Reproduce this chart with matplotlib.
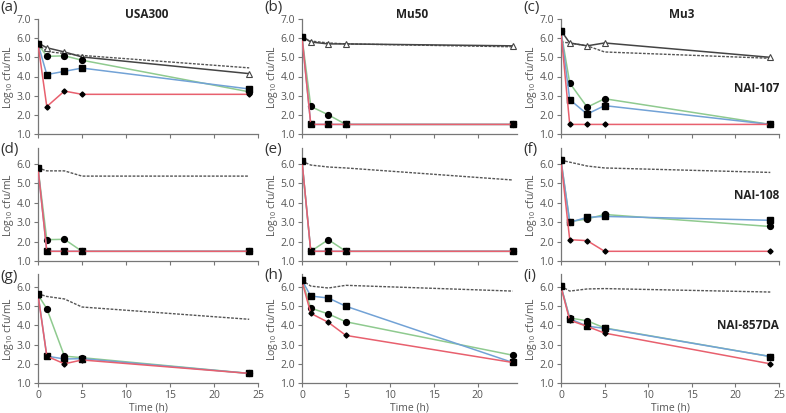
import matplotlib.pyplot as plt

times = [0, 1, 3, 5, 24]

strains = ['USA300', 'Mu50', 'Mu3']
drugs = ['NAI-107', 'NAI-108', 'NAI-857DA']
panel_labels = ['(a)', '(b)', '(c)', '(d)', '(e)', '(f)', '(g)', '(h)', '(i)']

# row 1 - NAI-107
a_ctrl = [5.70, 5.30, 5.20, 5.10, 4.45]
a_tri = [5.75, 5.50, 5.28, 5.02, 4.15]
a_green = [5.70, 5.05, 5.08, 4.85, 3.20]
a_blue = [5.70, 4.10, 4.27, 4.44, 3.35]
a_red = [5.70, 2.43, 3.24, 3.07, 3.07]

b_ctrl = [6.05, 5.85, 5.75, 5.70, 5.55]
b_tri = [6.08, 5.80, 5.70, 5.70, 5.60]
b_green = [6.05, 2.44, 2.00, 1.50, 1.50]
b_blue = [6.05, 1.50, 1.50, 1.50, 1.50]
b_red = [6.05, 1.50, 1.50, 1.50, 1.50]

c_ctrl = [5.80, 5.75, 5.60, 5.28, 4.95]
c_tri = [6.40, 5.75, 5.60, 5.75, 5.00]
c_green = [6.35, 3.66, 2.40, 2.84, 1.50]
c_blue = [6.40, 2.79, 2.04, 2.48, 1.50]
c_red = [6.30, 1.50, 1.50, 1.50, 1.50]

# row 2 - NAI-108
d_ctrl = [5.80, 5.65, 5.65, 5.38, 5.38]
d_green = [5.80, 2.10, 2.12, 1.50, 1.50]
d_blue = [5.80, 1.50, 1.50, 1.50, 1.50]
d_red = [5.80, 1.50, 1.50, 1.50, 1.50]

e_ctrl = [6.15, 5.95, 5.85, 5.80, 5.18]
e_green = [6.15, 1.50, 2.10, 1.50, 1.50]
e_blue = [6.15, 1.50, 1.50, 1.50, 1.50]
e_red = [6.15, 1.50, 1.50, 1.50, 1.50]

f_ctrl = [6.20, 6.10, 5.90, 5.80, 5.57]
f_green = [6.20, 3.03, 3.17, 3.40, 2.78]
f_blue = [6.20, 3.00, 3.25, 3.30, 3.10]
f_red = [6.15, 2.10, 2.05, 1.50, 1.50]

# row 3 - NAI-857DA
g_ctrl = [5.65, 5.51, 5.38, 4.96, 4.32]
g_green = [5.60, 4.87, 2.40, 2.32, 1.50]
g_blue = [5.65, 2.40, 2.25, 2.27, 1.50]
g_red = [5.60, 2.40, 2.00, 2.20, 1.50]

h_ctrl = [6.35, 6.05, 5.95, 6.09, 5.79]
h_green = [6.35, 4.90, 4.60, 4.19, 2.45]
h_blue = [6.35, 5.53, 5.43, 5.00, 2.07]
h_red = [6.30, 4.63, 4.16, 3.48, 2.07]

i_ctrl = [6.05, 5.79, 5.90, 5.92, 5.74]
i_green = [6.05, 4.39, 4.24, 3.87, 2.38]
i_blue = [6.05, 4.35, 3.96, 3.85, 2.38]
i_red = [6.00, 4.27, 3.95, 3.60, 2.00]

GREEN = '#8fca8f'
BLUE = '#72a2d6'
RED = '#e8606e'
GREY = '#555555'

plt.rcParams['font.family'] = ['Open Sans', 'DejaVu Sans']
plt.rcParams['mathtext.default'] = 'regular'

W, H = 786, 413
fig = plt.figure(figsize=(7.86, 4.13), dpi=100)


def MakeAxes(left, top, width, height):
    # pixel box -> figure fraction
    return fig.add_axes([left / W, 1 - (top + height) / H, width / W, height / H])


def DrawPanel(ax, ctrl, green, blue, red, tri=None, ymax=6.8, xmax=25, bottom=False, width=220):
    ax.plot(times, ctrl, color=GREY, lw=1.0, ls=(0, (2, 1)), zorder=2)
    if tri is not None:
        ax.plot(times, tri, color='#444444', lw=1.1, marker='^', ms=4.5,
                mfc='white', mec='#444444', mew=0.8, zorder=3)
    ax.plot(times, green, color=GREEN, lw=1.1, marker='o', ms=4.2,
            mfc='black', mec='black', zorder=4)
    ax.plot(times, blue, color=BLUE, lw=1.1, marker='s', ms=4.5,
            mfc='black', mec='black', zorder=5)
    ax.plot(times, red, color=RED, lw=1.1, marker='D', ms=2.6,
            mfc='black', mec='black', zorder=6)

    ax.set_xlim(0, xmax)
    ax.set_ylim(1, ymax)
    if ymax >= 7:
        ax.set_yticks([1, 2, 3, 4, 5, 6, 7])
    else:
        ax.set_yticks([1, 2, 3, 4, 5, 6])
    ax.set_yticklabels(['{:.1f}'.format(v) for v in ax.get_yticks()])
    ax.set_xticks([0, 5, 10, 15, 20, 25] if xmax >= 25 else [0, 5, 10, 15, 20])
    for s in ['top', 'right']:
        ax.spines[s].set_visible(False)
    for s in ['left', 'bottom']:
        ax.spines[s].set_color('#777777')
        ax.spines[s].set_linewidth(0.9)
    ax.tick_params(colors='#777777', labelcolor='#555555', labelsize=7.5,
                   length=3, width=0.8, pad=2)
    ax.set_ylabel('Log$_{10}$ cfu/mL', color='#555555', fontsize=7.5)
    ax.yaxis.set_label_coords(-22 / width, 0.5)
    if bottom:
        ax.set_xlabel('Time (h)', color='#555555', fontsize=7.5, labelpad=1)
    else:
        ax.set_xticklabels([])


lefts = [38, 302, 561]
widths = [220, 215, 218]
xmaxs = [25, 24.5, 25]
tops = [19, 148, 274]
heights = [115, 113, 109]
ymaxs = [7.0, 6.83, 6.68]
label_y = [8, 149, 276]

rows = [
    [(a_ctrl, a_green, a_blue, a_red, a_tri),
     (b_ctrl, b_green, b_blue, b_red, b_tri),
     (c_ctrl, c_green, c_blue, c_red, c_tri)],
    [(d_ctrl, d_green, d_blue, d_red, None),
     (e_ctrl, e_green, e_blue, e_red, None),
     (f_ctrl, f_green, f_blue, f_red, None)],
    [(g_ctrl, g_green, g_blue, g_red, None),
     (h_ctrl, h_green, h_blue, h_red, None),
     (i_ctrl, i_green, i_blue, i_red, None)],
]

drug_y = [3.4, 4.4, 4.0]

for r in range(3):
    for c in range(3):
        ax = MakeAxes(lefts[c], tops[r], widths[c], heights[r])
        ctrl, green, blue, red, tri = rows[r][c]
        DrawPanel(ax, ctrl, green, blue, red, tri=tri, ymax=ymaxs[r],
                  xmax=xmaxs[c], bottom=(r == 2), width=widths[c])
        lab_x = lefts[c] - 38
        fig.text(lab_x / W, 1 - label_y[r] / H, panel_labels[r * 3 + c],
                 fontsize=11, color='#333333', va='center', ha='left')
        if c == 2:
            ax.text(25, drug_y[r], drugs[r], fontsize=8.5, fontweight='bold',
                    ha='right', va='center', color='#222222')

title_x = [147, 412, 682]
for c in range(3):
    fig.text(title_x[c] / W, 1 - 14 / H, strains[c], fontsize=8.5,
             fontweight='bold', ha='center', va='center', color='#222222')

fig.savefig('out.png', dpi=100)
